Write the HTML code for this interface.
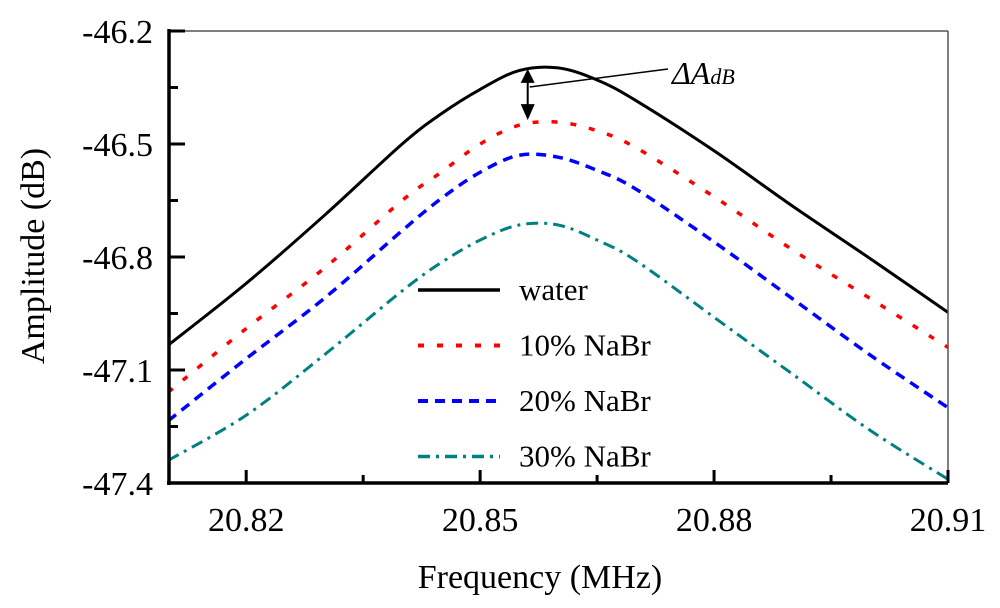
<!DOCTYPE html>
<html><head><meta charset="utf-8"><style>
body{margin:0;background:#fff;}
svg{display:block;}
svg text{font-family:"Liberation Serif","Times New Roman",Times,"DejaVu Serif",serif !important;}
</style></head><body>
<svg id="chart" width="1000" height="608">
<g id="plot"></g>
<text x="540" y="588" font-size="34" text-anchor="middle">Frequency (MHz)</text>
<text transform="translate(44,256) rotate(-90)" font-size="34" text-anchor="middle">Amplitude (dB)</text>
</svg>
<script>
const freqs=[20.81,20.82,20.83,20.84,20.845,20.85,20.855,20.86,20.865,20.87,20.88,20.89,20.90,20.91];
const water=[-47.034,-46.87,-46.69,-46.50,-46.42,-46.355,-46.305,-46.298,-46.33,-46.385,-46.518,-46.664,-46.804,-46.947];
const nabr10=[-47.159,-46.99,-46.83,-46.65,-46.575,-46.5,-46.45,-46.442,-46.465,-46.51,-46.64,-46.78,-46.91,-47.04];
const nabr20=[-47.235,-47.07,-46.91,-46.73,-46.645,-46.575,-46.53,-46.535,-46.57,-46.62,-46.76,-46.91,-47.06,-47.2];
const nabr30=[-47.34,-47.22,-47.06,-46.89,-46.815,-46.755,-46.715,-46.715,-46.755,-46.81,-46.96,-47.11,-47.26,-47.39];
const xTicks=["20.82","20.85","20.88","20.91"];
const yTicks=["-46.2","-46.5","-46.8","-47.1","-47.4"];
const seriesNames=["water","10% NaBr","20% NaBr","30% NaBr"];

const L=169,R=948,T=31,B=483,X0=20.8101,X1=20.91,Y0=-47.4,Y1=-46.2;
const sx=v=>L+(v-X0)/(X1-X0)*(R-L);
const sy=v=>B-(v-Y0)/(Y1-Y0)*(B-T);
const NS="http://www.w3.org/2000/svg";
const g=document.getElementById('plot');
function mk(t,a){const e=document.createElementNS(NS,t);for(const k in a)e.setAttribute(k,a[k]);g.appendChild(e);return e;}

const styles=[
 {c:"#000",w:3,d:""},
 {c:"#f00",w:3.5,d:"6 13"},
 {c:"#00f",w:3.5,d:"10 7"},
 {c:"#008080",w:3,d:"12 6 3 6"}];
const data=[water,nabr10,nabr20,nabr30];
const ids=["water-line","nabr10-line","nabr20-line","nabr30-line"];
data.forEach((s,i)=>{
  const pts=s.map((v,j)=>[sx(freqs[j]),sy(v)]);
  let d="M"+pts[0][0]+","+pts[0][1];
  for(let j=0;j<pts.length-1;j++){
    const p0=pts[Math.max(0,j-1)],p1=pts[j],p2=pts[j+1],p3=pts[Math.min(pts.length-1,j+2)];
    d+=" C"+(p1[0]+(p2[0]-p0[0])/6)+","+(p1[1]+(p2[1]-p0[1])/6)+" "+(p2[0]-(p3[0]-p1[0])/6)+","+(p2[1]-(p3[1]-p1[1])/6)+" "+p2[0]+","+p2[1];
  }
  const p=mk('path',{d:d,fill:"none",stroke:styles[i].c,"stroke-width":styles[i].w,"stroke-dasharray":styles[i].d});
  
  
});

let f=mk('line',{x1:L,y1:T,x2:R,y2:T,stroke:"#555","stroke-width":1.5});


f=mk('line',{x1:R,y1:T,x2:R,y2:B,stroke:"#555","stroke-width":1.5});


f=mk('line',{x1:L,y1:T-2,x2:L,y2:B+2,stroke:"#000","stroke-width":3.5});


f=mk('line',{x1:L-2,y1:B,x2:R,y2:B,stroke:"#000","stroke-width":3.5});



xTicks.forEach((t,i)=>{
  const x=sx(+t);
  let e=mk('line',{x1:x,y1:B,x2:x,y2:B-13,stroke:"#000","stroke-width":3});
  
  
  if(i<xTicks.length-1){const xm=sx(+t+0.015);
    e=mk('line',{x1:xm,y1:B,x2:xm,y2:B-8,stroke:"#000","stroke-width":3});
    
    }
  e=mk('text',{x:x,y:531,"font-size":34,"text-anchor":"middle"});e.textContent=t;
  
  
});
yTicks.forEach((t,i)=>{
  const y=sy(+t);
  let e=mk('line',{x1:L,y1:y,x2:L+16,y2:y,stroke:"#000","stroke-width":3});
  
  
  if(i<yTicks.length-1){const ym=sy(+t-0.15);
    e=mk('line',{x1:L,y1:ym,x2:L+9,y2:ym,stroke:"#000","stroke-width":3});
    
    }
  e=mk('text',{x:153,y:y+12,"font-size":34,"text-anchor":"end"});e.textContent=t;
  
  
});

seriesNames.forEach((n,i)=>{
  const y=290+i*55.5;
  let e=mk('line',{x1:418,y1:y,x2:500,y2:y,stroke:styles[i].c,"stroke-width":styles[i].w+0.5,"stroke-dasharray":styles[i].d});
  
  
  e=mk('text',{x:519,y:y+10,"font-size":31});e.textContent=n;
  
  
});

const ax=sx(20.8561), ya=sy(water[7])+1, yb=sy(nabr10[7])-2;
let a=mk('line',{x1:ax,y1:ya+12,x2:ax,y2:yb-14,stroke:"#000","stroke-width":2});


a=mk('polygon',{points:`${ax-7},${ya+14} ${ax+7},${ya+14} ${ax},${ya}`,fill:"#000"});


a=mk('polygon',{points:`${ax-7},${yb-16} ${ax+7},${yb-16} ${ax},${yb}`,fill:"#000"});


a=mk('line',{x1:ax+2,y1:87,x2:668,y2:69,stroke:"#000","stroke-width":1.5});


a=mk('text',{x:672,y:84,"font-size":32,"font-style":"italic"});
a.innerHTML='ΔA<tspan font-size="22">dB</tspan>';


</script>
</body></html>
